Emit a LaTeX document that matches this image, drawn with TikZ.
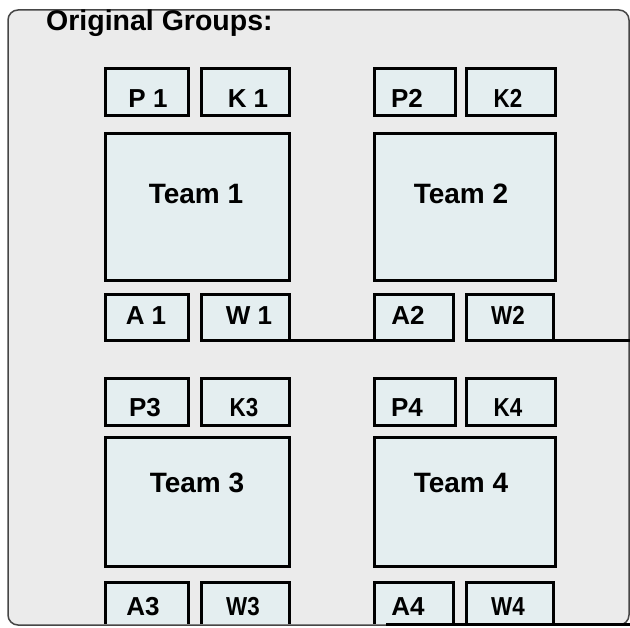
\documentclass[tikz,border=0pt]{standalone}
\usepackage{fontspec}
\setmainfont{Liberation Sans}
\newfontfamily\narrowfont[FakeStretch=0.86]{Liberation Sans}
\definecolor{bgray}{RGB}{235,235,235}
\definecolor{boxfill}{RGB}{228,238,240}
\definecolor{frame}{RGB}{70,70,70}
\begin{document}
\begin{tikzpicture}[x=1pt,y=-1pt,
  box/.style={draw=black,fill=boxfill,line width=3pt,inner sep=0pt,outer sep=0pt,anchor=north west},
  lbl/.style={inner sep=0pt,anchor=base,font=\fontsize{26}{30}\selectfont\bfseries},
  nlbl/.style={inner sep=0pt,anchor=base,font=\fontsize{26}{30}\selectfont\narrowfont\bfseries},
  tlbl/.style={inner sep=0pt,anchor=base,font=\fontsize{28}{32}\selectfont\bfseries},
  conn/.style={draw=black,line width=2.6pt}]
\useasboundingbox (0,0) rectangle (630,628);
\fill[white] (0,0) rectangle (630,628);
\draw[frame,fill=bgray,line width=1.5pt,rounded corners=10pt] (8,10) rectangle (629,625);
\node[inner sep=0pt,anchor=base west,font=\fontsize{28.5}{32}\selectfont\bfseries] (title) at (46,31) {Original Groups:};

% Team 1
\node[box,minimum width=83,minimum height=47] (P1) at (105.5,68.5) {};
\node[box,minimum width=88,minimum height=47] (K1) at (201.5,68.5) {};
\node[box,minimum width=184,minimum height=147] (T1) at (105.5,133.5) {};
\node[box,minimum width=83,minimum height=46] (A1) at (105.5,294.5) {};
\node[box,minimum width=88,minimum height=46] (W1) at (201.5,294.5) {};
\node[lbl] (tP1) at (148,108) {P 1};
\node[lbl] (tK1) at (248,108) {K 1};
\node[tlbl] (tT1) at (196,204) {Team 1};
\node[lbl] (tA1) at (146,325) {A 1};
\node[lbl] (tW1) at (249,325) {W 1};

% Team 2
\node[box,minimum width=81,minimum height=47] (P2) at (374.5,68.5) {};
\node[box,minimum width=89,minimum height=47] (K2) at (466.5,68.5) {};
\node[box,minimum width=181,minimum height=147] (T2) at (374.5,133.5) {};
\node[box,minimum width=79,minimum height=46] (A2) at (374.5,294.5) {};
\node[box,minimum width=87,minimum height=46] (W2) at (466.5,294.5) {};
\node[lbl] (tP2) at (407,108) {P2};
\node[nlbl] (tK2) at (508,108) {K2};
\node[tlbl] (tT2) at (461,204) {Team 2};
\node[lbl] (tA2) at (408,325) {A2};
\node[nlbl] (tW2) at (508,325) {W2};

% connectors row 1
\coordinate (rightA) at (630,340.5);
\draw[conn] (W1.south east) -- (A2.south west);
\draw[conn] (W2.south east) -- (rightA);

% Team 3
\node[box,minimum width=83,minimum height=47] (P3) at (105.5,378.5) {};
\node[box,minimum width=88,minimum height=47] (K3) at (201.5,378.5) {};
\node[box,minimum width=184,minimum height=129] (T3) at (105.5,437.5) {};
\node[lbl] (tP3) at (145,417) {P3};
\node[nlbl] (tK3) at (244,417) {K3};
\node[tlbl] (tT3) at (197,493) {Team 3};

% Team 4
\node[box,minimum width=81,minimum height=47] (P4) at (374.5,378.5) {};
\node[box,minimum width=89,minimum height=47] (K4) at (466.5,378.5) {};
\node[box,minimum width=181,minimum height=129] (T4) at (374.5,437.5) {};
\node[lbl] (tP4) at (407,417) {P4};
\node[nlbl] (tK4) at (508,417) {K4};
\node[tlbl] (tT4) at (461,493) {Team 4};

% bottom row (clipped boxes, open at the bottom)
\begin{scope}
\clip (0,0) rectangle (630,623);
\node[box,minimum width=83,minimum height=50] (A3) at (105.5,582.5) {};
\node[box,minimum width=88,minimum height=50] (W3) at (201.5,582.5) {};
\node[box,minimum width=79,minimum height=50] (A4) at (374.5,582.5) {};
\node[box,minimum width=87,minimum height=50] (W4) at (466.5,582.5) {};
\end{scope}
\node[lbl] (tA3) at (143,615) {A3};
\node[nlbl] (tW3) at (243,615) {W3};
\node[lbl] (tA4) at (408,615) {A4};
\node[nlbl] (tW4) at (508,615) {W4};

\coordinate (botL) at (386,624.5);
\coordinate (botR) at (630,624.5);
\draw[conn] (botL) -- (botR);
\end{tikzpicture}
\end{document}
